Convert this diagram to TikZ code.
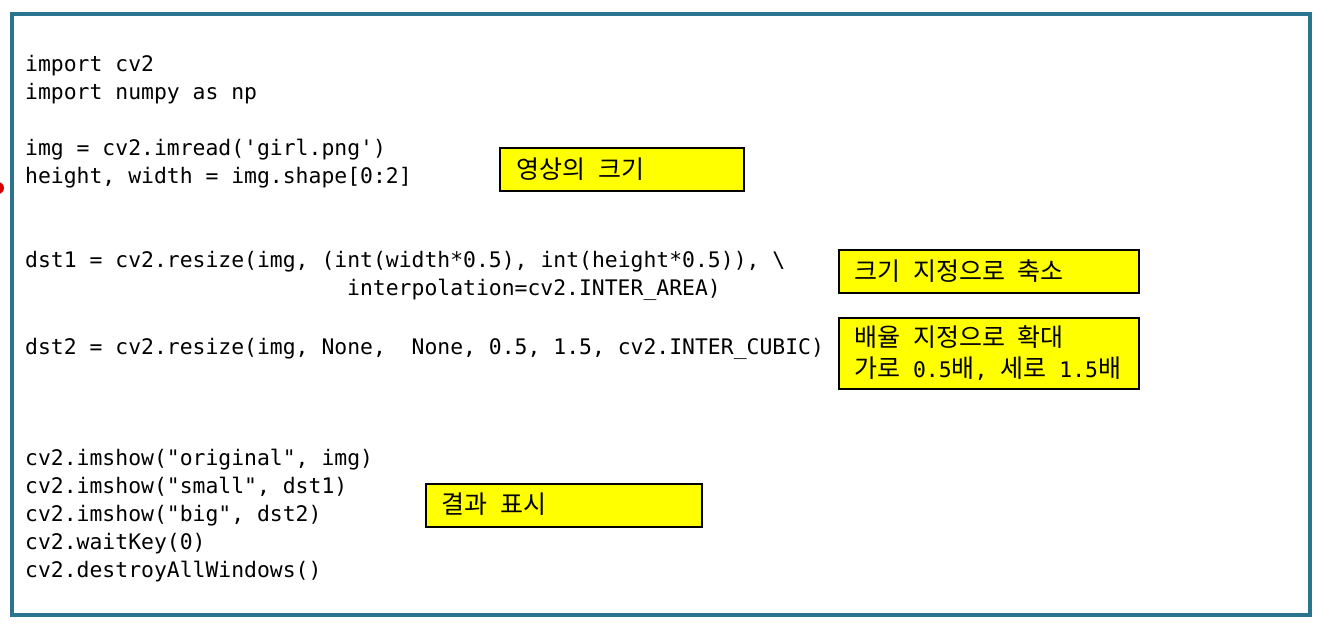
\documentclass[tikz,border=0pt]{standalone}
\usepackage{fontspec}
\newfontfamily\codefont{DejaVu Sans Mono}
\newfontfamily\krfont{Noto Sans CJK KR}
\definecolor{framec}{RGB}{42,116,144}
\definecolor{noteyellow}{RGB}{255,255,0}
\tikzset{
  codeline/.style={anchor=base west, inner sep=0pt, font=\codefont\fontsize{21.4}{28}\selectfont},
  notebox/.style={draw=black, line width=1.3pt, fill=noteyellow},
  notetext/.style={anchor=base west, inner sep=0pt, align=left, font=\krfont\fontsize{25}{31}\selectfont},
}
\newcommand{\cd}[1]{{\codefont\fontsize{21.4}{28}\selectfont #1}}
\begin{document}
\begin{tikzpicture}[x=1pt,y=-1pt]
\useasboundingbox (0,0) rectangle (1336,638);
\fill[white] (0,0) rectangle (1336,638);
\draw[framec, line width=3.5pt] (12,14) rectangle (1310,615);
\fill[red!85!black] (-2,188) circle (6);
% code
\node[codeline] (l1) at (25,71) {import cv2};
\node[codeline] (l2) at (25,99) {import numpy as np};
\node[codeline] (l3) at (25,155) {img = cv2.imread('girl.png')};
\node[codeline] (l4) at (25,183) {height, width = img.shape[0:2]};
\node[codeline] (l5) at (25,267) {dst1 = cv2.resize(img, (int(width*0.5), int(height*0.5)), \textbackslash};
\node[codeline] (l6) at (347,295) {interpolation=cv2.INTER\_AREA)};
\node[codeline] (l7) at (25,354) {dst2 = cv2.resize(img, None,\ \ None, 0.5, 1.5, cv2.INTER\_CUBIC)};
\node[codeline] (l8) at (25,465) {cv2.imshow("original", img)};
\node[codeline] (l9) at (25,493) {cv2.imshow("small", dst1)};
\node[codeline] (l10) at (25,521) {cv2.imshow("big", dst2)};
\node[codeline] (l11) at (25,549) {cv2.waitKey(0)};
\node[codeline] (l12) at (25,577) {cv2.destroyAllWindows()};
% notes
\draw[notebox] (500,148) rectangle (744,191);
\node[notetext] (n1) at (516,178) {영상의\cd{ }크기};
\draw[notebox] (839,250) rectangle (1139,293);
\node[notetext] (n2) at (854,280) {크기\cd{ }지정으로\cd{ }축소};
\draw[notebox] (839,318) rectangle (1139,389);
\node[notetext] (n3a) at (854,346) {배율\cd{ }지정으로\cd{ }확대};
\node[notetext] (n3b) at (854,377) {가로\cd{ 0.5}배\cd{, }세로\cd{ 1.5}배};
\draw[notebox] (426,484) rectangle (702,527);
\node[notetext] (n4) at (441,513) {결과\cd{ }표시};
\end{tikzpicture}
\end{document}
